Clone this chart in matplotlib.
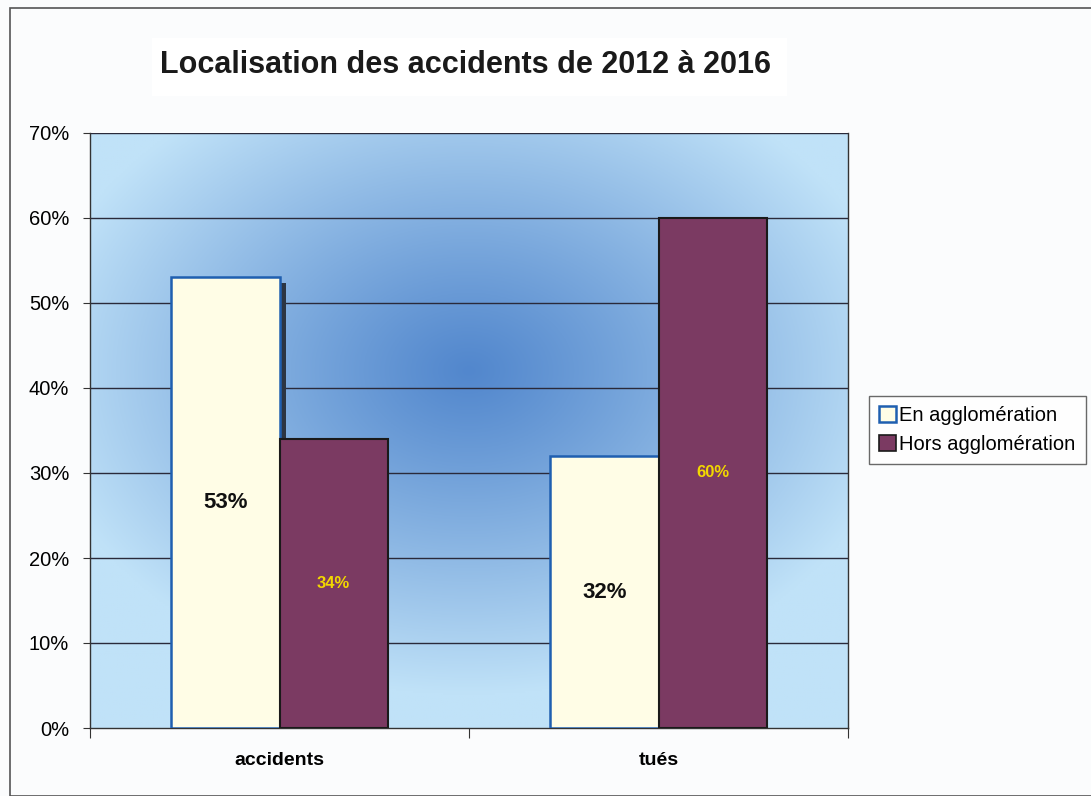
import numpy as np
import matplotlib
matplotlib.use("Agg")
import matplotlib.pyplot as plt
from matplotlib.patches import Rectangle, Patch

categories = ["accidents", "tués"]
series_names = ["En agglomération", "Hors agglomération"]
en_aggl = [53, 32]
hors_aggl = [34, 60]
yticks = [0, 10, 20, 30, 40, 50, 60, 70]
ytick_labels = ["0%", "10%", "20%", "30%", "40%", "50%", "60%", "70%"]

plt.rcParams['font.family'] = ['Liberation Sans', 'DejaVu Sans']

fig = plt.figure(figsize=(10.91, 7.96), dpi=100)
fig.patch.set_facecolor("#fbfcfd")

# outer chart border
fig.add_artist(Rectangle((10/1091, 0.0), 1.0, 1 - 8/796, transform=fig.transFigure,
                         fill=False, edgecolor="#555555", linewidth=1.2))

ax = fig.add_axes([90/1091, 68/796, 758/1091, 595/796])

# radial gradient background
ny, nx = 300, 400
yy, xx = np.mgrid[0:1:ny*1j, 0:1:nx*1j]
cx, cy = 0.50, 0.60
r = np.sqrt(((xx - cx) / 0.85) ** 2 + ((yy - cy) / 0.80) ** 2)
inner = np.array([82, 135, 205]) / 255
outer = np.array([192, 226, 248]) / 255
t = np.clip(r / 0.68, 0, 1) ** 1.1
img = inner[None, None, :] * (1 - t[..., None]) + outer[None, None, :] * t[..., None]
ax.imshow(img, extent=[-0.5, 1.5, 0, 70], origin="lower", aspect="auto", zorder=0)

x = np.arange(len(categories))
w = 0.285
for yv in yticks[1:]:
    ax.axhline(yv, color="#2a2a3a", linewidth=1.0, zorder=1)

# shadow behind the "En" bars
ax.bar(x - w/2 + 0.017, en_aggl, width=w, bottom=-0.7, color="#2c3542",
       linewidth=0, zorder=2)

b1 = ax.bar(x - w/2, en_aggl, width=w, color="#fffde6", edgecolor="#1f5fb0",
            linewidth=1.8, zorder=3)
b2 = ax.bar(x + w/2, hors_aggl, width=w, color="#7b3a62", edgecolor="#1a1a1a",
            linewidth=1.5, zorder=4)

for xi, v in zip(x - w/2, en_aggl):
    ax.text(xi, v / 2, f"{v}%", ha="center", va="center", fontsize=16,
            fontweight="semibold", color="#111111", zorder=5)
for xi, v in zip(x + w/2, hors_aggl):
    ax.text(xi, v / 2, f"{v}%", ha="center", va="center", fontsize=12,
            fontweight="bold", color="#f2d800", zorder=5)

ax.set_xlim(-0.5, 1.5)
ax.set_ylim(0, 70)
ax.set_yticks(yticks)
ax.set_yticklabels(ytick_labels, fontsize=14.5)
ax.set_xticks([-0.5, 0.5, 1.5])
ax.set_xticklabels([])
ax.set_xticks(x, minor=True)
ax.set_xticklabels(categories, minor=True, fontsize=14, fontweight="bold")
ax.tick_params(axis="x", which="minor", length=0, pad=17)
ax.tick_params(axis="x", which="major", length=7, color="#333333", direction="out")
ax.tick_params(axis="y", length=5, color="#333333", direction="out", pad=10)
ax.spines["top"].set_visible(False)
for s in ["left", "bottom", "right"]:
    ax.spines[s].set_color("#333333")
    ax.spines[s].set_linewidth(1.0)

# Title with white box
fig.add_artist(Rectangle((152/1091, 1 - 96/796), 635/1091, 58/796,
                         transform=fig.transFigure, facecolor="white",
                         edgecolor="none"))
fig.text(466/1091, 1 - 65/796, "Localisation des accidents de 2012 à 2016",
         ha="center", va="center", fontsize=22, fontweight="bold",
         color="#1a1a1a")

handles = [Patch(facecolor="#fffde6", edgecolor="#1f5fb0", linewidth=1.8),
           Patch(facecolor="#7b3a62", edgecolor="#1a1a1a", linewidth=1.2)]
leg = fig.legend(handles, series_names, loc="center left",
                 bbox_to_anchor=(869/1091, 1 - 430/796), fontsize=14.5,
                 frameon=True, fancybox=False, edgecolor="#444444",
                 handlelength=0.85, handleheight=0.85, handletextpad=0.15,
                 borderpad=0.5, labelspacing=0.5, borderaxespad=0)
leg.get_frame().set_linewidth(1.0)

fig.savefig("out.png", dpi=100, facecolor=fig.get_facecolor())
